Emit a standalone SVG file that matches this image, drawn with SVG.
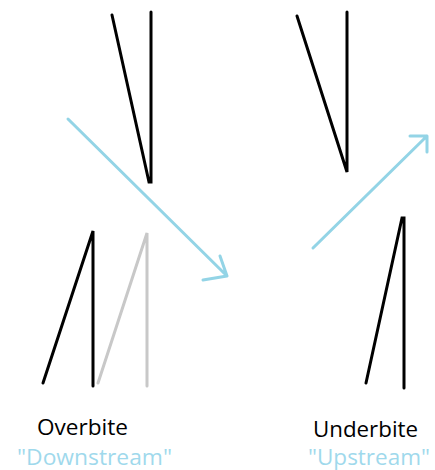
<svg xmlns="http://www.w3.org/2000/svg" width="435" height="470" viewBox="0 0 435 470">
  <style>
    .tooth { fill: none; stroke: #000; stroke-width: 3; stroke-linecap: round; stroke-linejoin: miter; }
    .ghost { fill: none; stroke: #c8c8c8; stroke-width: 3; stroke-linecap: round; }
    .flow { fill: none; stroke: #93d4e6; stroke-width: 3; stroke-linecap: round; stroke-linejoin: round; }
    .label { font-family: "Open Sans", "Noto Sans", sans-serif; font-size: 21px; fill: #000; }
    .sub { font-family: "Open Sans", "Noto Sans", sans-serif; font-size: 21px; fill: #9fd9ec; }
  </style>
  <rect width="435" height="470" fill="#fff"/>

  <g id="overbite-upper">
    <polyline class="tooth" points="112,15 149,182 151,182 151,12"/>
  </g>
  <g id="overbite-lower">
    <polyline class="tooth" points="43,383 93,231 93,386"/>
  </g>
  <g id="overbite-lower-ghost">
    <polyline class="ghost" points="98,383 147,233 147,386"/>
  </g>
  <g id="underbite-upper">
    <polyline class="tooth" points="297,16 347,172 347,12"/>
  </g>
  <g id="underbite-lower">
    <polyline class="tooth" points="366,383 402,218 404,218 404,388"/>
  </g>

  <g id="connectors">
    <path class="flow" d="M68,119 L227,276 M220,256 L227,276 L203,280"/>
    <path class="flow" d="M313,248 L427,136 M410,136 L427,136 L427,152"/>
  </g>

  <g id="overbite-caption">
    <text class="label" x="37" y="435" textLength="91" lengthAdjust="spacingAndGlyphs">Overbite</text>
    <text class="sub" x="17" y="465" textLength="155" lengthAdjust="spacingAndGlyphs">"Downstream"</text>
  </g>
  <g id="underbite-caption">
    <text class="label" x="313" y="437" textLength="105" lengthAdjust="spacingAndGlyphs">Underbite</text>
    <text class="sub" x="308" y="465" textLength="122" lengthAdjust="spacingAndGlyphs">"Upstream"</text>
  </g>
</svg>
